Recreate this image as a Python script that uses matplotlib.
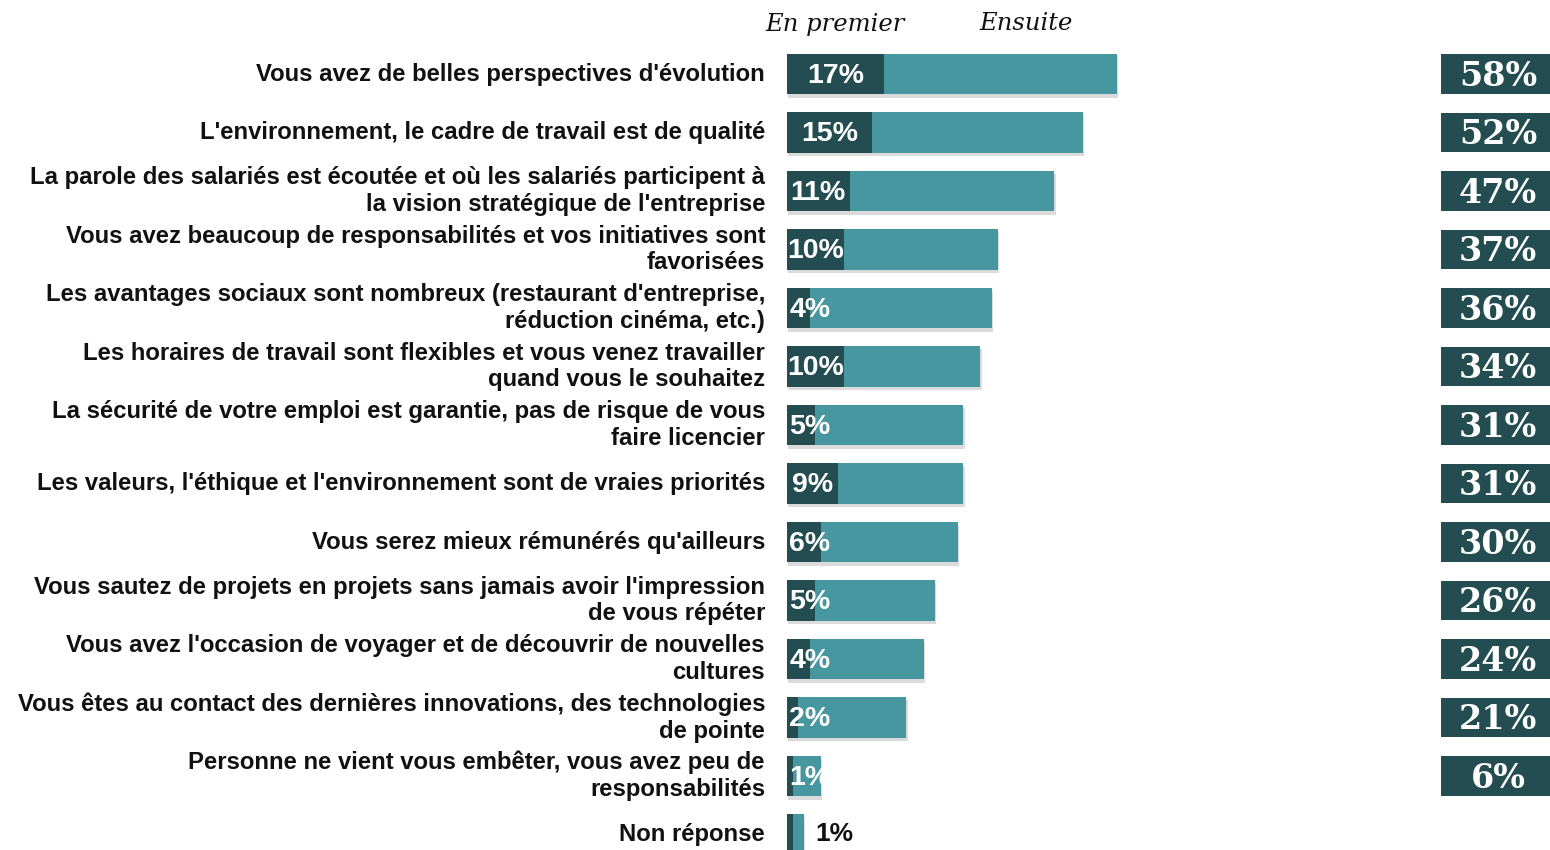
import matplotlib
matplotlib.use("Agg")
import matplotlib.pyplot as plt
import matplotlib.transforms as mtransforms
from matplotlib.patches import Rectangle
import matplotlib.patheffects as pe

# ---------------- data ----------------
categories = [
    "Vous avez de belles perspectives d'évolution",
    "L'environnement, le cadre de travail est de qualité",
    "La parole des salariés est écoutée et où les salariés participent à\nla vision stratégique de l'entreprise",
    "Vous avez beaucoup de responsabilités et vos initiatives sont\nfavorisées",
    "Les avantages sociaux sont nombreux (restaurant d'entreprise,\nréduction cinéma, etc.)",
    "Les horaires de travail sont flexibles et vous venez travailler\nquand vous le souhaitez",
    "La sécurité de votre emploi est garantie, pas de risque de vous\nfaire licencier",
    "Les valeurs, l'éthique et l'environnement sont de vraies priorités",
    "Vous serez mieux rémunérés qu'ailleurs",
    "Vous sautez de projets en projets sans jamais avoir l'impression\nde vous répéter",
    "Vous avez l'occasion de voyager et de découvrir de nouvelles\ncultures",
    "Vous êtes au contact des dernières innovations, des technologies\nde pointe",
    "Personne ne vient vous embêter, vous avez peu de\nresponsabilités",
]
en_premier = [17, 15, 11, 10, 4, 10, 5, 9, 6, 5, 4, 2, 1]
total = [58, 52, 47, 37, 36, 34, 31, 31, 30, 26, 24, 21, 6]

nonrep_label = "Non réponse"
nonrep_first = 1
nonrep_total_bar = 3   # drawn width
nonrep_value = 1       # value printed

header_first = "En premier"
header_next = "Ensuite"

# ---------------- style ----------------
DARK = "#234d50"
LIGHT = "#4697a0"
W, H = 1550, 850
fig = plt.figure(figsize=(W / 100, H / 100), dpi=100)
fig.patch.set_facecolor("white")

x0_px = 787
px_per_pct = 5.69
row0_px = 74
row_step = 58.5
left = x0_px / W
ax = fig.add_axes([left, 0, 1 - left, 1])
ax.set_xlim(0, (W - x0_px) / px_per_pct)
ax.set_ylim((H - row0_px) / row_step, -row0_px / row_step)
ax.axis("off")

n = len(categories)
ys = list(range(n))
bh = 0.70
shadow = [pe.SimplePatchShadow(offset=(0.8, -2.5), shadow_rgbFace="#9a9a9a", alpha=0.35), pe.Normal()]

bars_l = ax.barh(ys, total, height=bh, color=LIGHT, zorder=2)
bars_d = ax.barh(ys, en_premier, height=bh, color=DARK, zorder=3)
for b in bars_l:
    b.set_path_effects(shadow)

# non réponse row
yn = n
b = ax.barh([yn], [nonrep_total_bar], height=bh, color=LIGHT, zorder=2)
b[0].set_path_effects(shadow)
ax.barh([yn], [nonrep_first], height=bh, color=DARK, zorder=3)
ax.text(nonrep_total_bar + 2, yn, f"{nonrep_value}%", ha="left", va="center",
        fontsize=19, fontweight="bold", color="#111111", family="Liberation Sans")

# in-bar labels
for y, f in zip(ys, en_premier):
    xc = max(f / 2, 4.0)
    ax.text(xc, y + 0.03, f"{f}%", ha="center", va="center", color="white",
            fontsize=20.5, fontweight="bold", family="Liberation Sans", zorder=5)

# category labels
lab_tr = mtransforms.blended_transform_factory(fig.transFigure, ax.transData)
for y, c in zip(ys + [yn], categories + [nonrep_label]):
    ax.text(765 / W, y, c, transform=lab_tr, ha="right", va="center",
            fontsize=17.2, fontweight="bold", color="#111111",
            family="Liberation Sans", linespacing=1.2)

# total boxes on the right
box_tr = mtransforms.blended_transform_factory(fig.transFigure, ax.transData)
for y, t in zip(ys, total):
    ax.add_patch(Rectangle((1441 / W, y - 0.34), (W - 1441) / W + 0.01, 0.68,
                           transform=box_tr, facecolor=DARK, edgecolor="none",
                           clip_on=False, zorder=2))
    ax.text(1498 / W, y + 0.04, f"{t}%", transform=box_tr, ha="center", va="center",
            color="white", fontsize=24, fontweight="bold", family="DejaVu Serif", zorder=5)

# headers
fig.text(835 / W, 1 - 24 / H, header_first, ha="center", va="center",
         fontsize=17.5, style="italic", family="DejaVu Serif", color="#111111")
fig.text(1026 / W, 1 - 24 / H, header_next, ha="center", va="center",
         fontsize=17.5, style="italic", family="DejaVu Serif", color="#111111")

fig.savefig("out.png", dpi=100, facecolor="white")
